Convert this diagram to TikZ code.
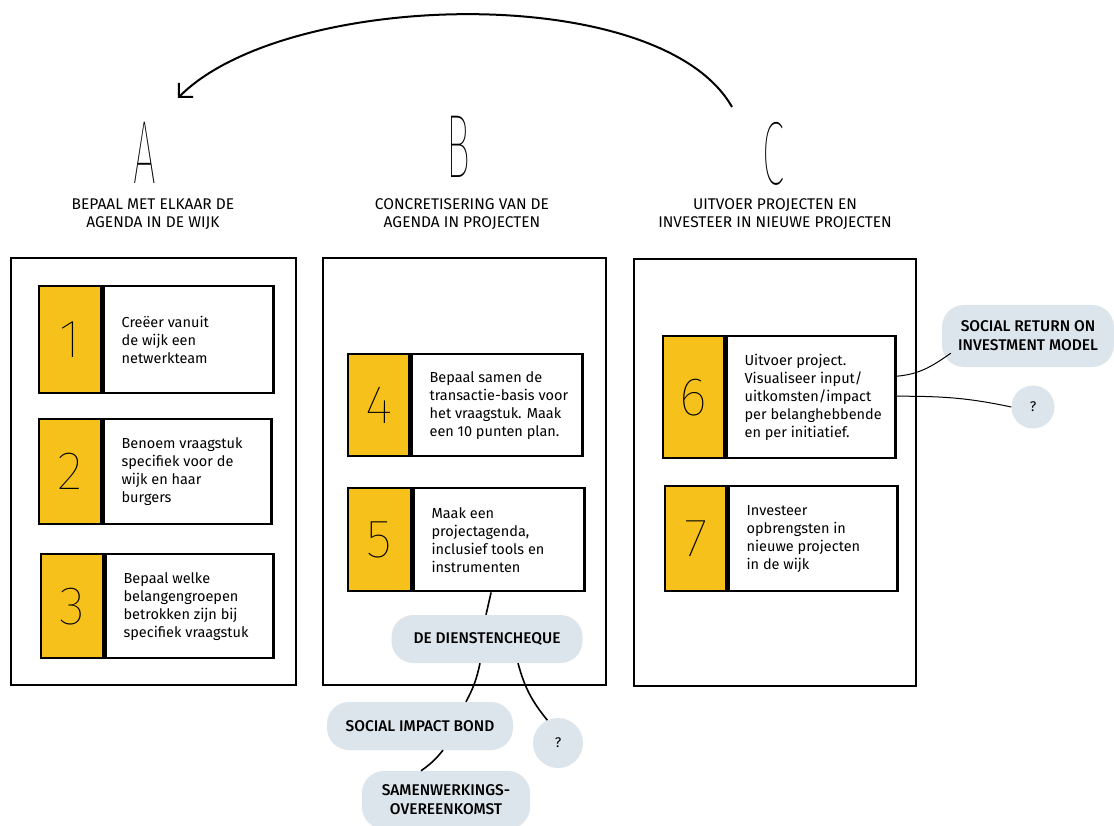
\documentclass[tikz,border=0pt]{standalone}
\usepackage{fontspec}
\setmainfont{Fira Sans}
\newfontfamily\thinfont{Fira Sans Thin}
\newfontfamily\medfont{Fira Sans Medium}
\usetikzlibrary{arrows.meta,positioning}
\definecolor{ygold}{HTML}{F5C11A}
\definecolor{bub}{HTML}{DCE5EC}
\tikzset{
  panel/.style={draw, line width=2.4pt, inner sep=0pt, anchor=north west},
  numbox/.style={draw, line width=2.4pt, fill=ygold, inner sep=0pt,
     font=\thinfont\fontsize{54}{54}\selectfont},
  txtbox/.style={draw, line width=2.4pt, fill=white, inner sep=0pt},
  steptext/.style={inner sep=0pt, align=left, font=\fontsize{14.5}{18}\selectfont},
  heading/.style={align=center, inner sep=0pt, font=\fontsize{15.5}{18}\selectfont},
  bigletter/.style={inner sep=0pt, font=\thinfont\fontsize{90}{90}\selectfont},
  bubble/.style={fill=bub, rounded corners=22pt, inner sep=0pt, align=center,
     font=\medfont\fontsize{15.5}{19}\selectfont},
  qbubble/.style={circle, fill=bub, inner sep=0pt, font=\fontsize{14}{16}\selectfont},
  conn/.style={line width=1.6pt},
  thinconn/.style={line width=1pt}
}
\newcommand{\mkstep}[8]{%
  \node[numbox, minimum width=#4pt, minimum height=#6pt, anchor=north west] (n#1) at (#2,#3) {#7};
  \node[txtbox, minimum width=#5pt, minimum height=#6pt, anchor=north west] (t#1) at (n#1.north east) {};
  \node[steptext, anchor=west] (l#1) at ([xshift=19pt]t#1.west) {#8};
}
\begin{document}
\begin{tikzpicture}[x=1pt,y=-1pt]
\useasboundingbox (0,0) rectangle (1114,826);
\fill[white] (0,0) rectangle (1114,826);

% letters and headings
\node[bigletter, anchor=base] (A) at (145,184) {\scalebox{0.45}[1]{A}};
\node[bigletter, anchor=base] (B) at (458,178) {\scalebox{0.45}[1]{B}};
\node[bigletter, anchor=base] (C) at (773,185) {\scalebox{0.45}[1]{C}};
\node[heading] (hA) at (153,214) {BEPAAL MET ELKAAR DE\\AGENDA IN DE WIJK};
\node[heading] (hB) at (462,214) {CONCRETISERING VAN DE\\AGENDA IN PROJECTEN};
\node[heading] (hC) at (775,214) {UITVOER PROJECTEN EN\\INVESTEER IN NIEUWE PROJECTEN};

% return arrow
\coordinate (arcS) at (732,107);
\coordinate (arcE) at (178,98);
\draw[line width=2pt, -{Straight Barb[length=10pt,width=20pt,line width=2pt]}]
  (arcS) .. controls (660,-20) and (285,-10) .. (arcE);

% panels
\node[panel, minimum width=285pt, minimum height=427pt] (pA) at (10,257) {};
\node[panel, minimum width=283pt, minimum height=427pt] (pB) at (322,257) {};
\node[panel, minimum width=282pt, minimum height=427pt] (pC) at (633,258) {};

% steps
\mkstep{1}{38}{285}{62}{170}{107}{1}{Creëer vanuit\\de wijk een\\netwerkteam}
\mkstep{2}{38}{418}{62}{168}{105}{2}{Benoem vraagstuk\\specifiek voor de\\wijk en haar\\burgers}
\mkstep{3}{40}{553}{62}{168}{104}{3}{Bepaal welke\\belangengroepen\\betrokken zijn bij\\specifiek vraagstuk}
\mkstep{4}{347}{353}{61}{171}{102}{4}{Bepaal samen de\\transactie-basis voor\\het vraagstuk. Maak\\een 10 punten plan.}
\mkstep{5}{347}{487}{63}{171}{103}{5}{Maak een\\projectagenda,\\inclusief tools en\\instrumenten}
\mkstep{6}{662}{335}{61}{169}{122}{6}{Uitvoer project.\\Visualiseer input/\\uitkomsten/impact\\per belanghebbende\\en per initiatief.}
\mkstep{7}{664}{485}{61}{169}{105}{7}{Investeer\\opbrengsten in\\nieuwe projecten\\in de wijk}

% bubbles
\node[bubble, minimum width=172pt, minimum height=62pt] (sroi) at (1028,336) {SOCIAL RETURN ON\\INVESTMENT MODEL};
\node[qbubble, minimum size=43pt] (q2) at (1033,407) {?};
\node[bubble, minimum width=191pt, minimum height=48pt] (dc) at (487,639) {DE DIENSTENCHEQUE};
\node[bubble, minimum width=186pt, minimum height=48pt] (sib) at (420,726) {SOCIAL IMPACT BOND};
\node[qbubble, minimum size=50pt] (q1) at (558,743) {?};
\node[bubble, minimum width=168pt, minimum height=58pt] (sam) at (446,800) {SAMENWERKINGS-\\OVEREENKOMST};

% connectors
\draw[conn] ([xshift=-8pt]t5.south) -- ([xshift=-1pt]dc.north);
\draw[conn] ([xshift=-7pt]dc.south) to[bend left=8] ([xshift=46pt]sib.north);
\draw[conn] ([xshift=31pt]dc.south) to[bend right=12] (q1.115);
\draw[conn] ([xshift=23pt]sib.south) to[bend left=8] ([xshift=-25pt]sam.north);
\draw[thinconn] ([yshift=21pt]t6.east) to[out=5,in=-145] ([xshift=9pt,yshift=14pt]sroi.south west);
\draw[thinconn] ([yshift=1pt]t6.east) to[out=0,in=168] (q2.west);
\end{tikzpicture}
\end{document}
